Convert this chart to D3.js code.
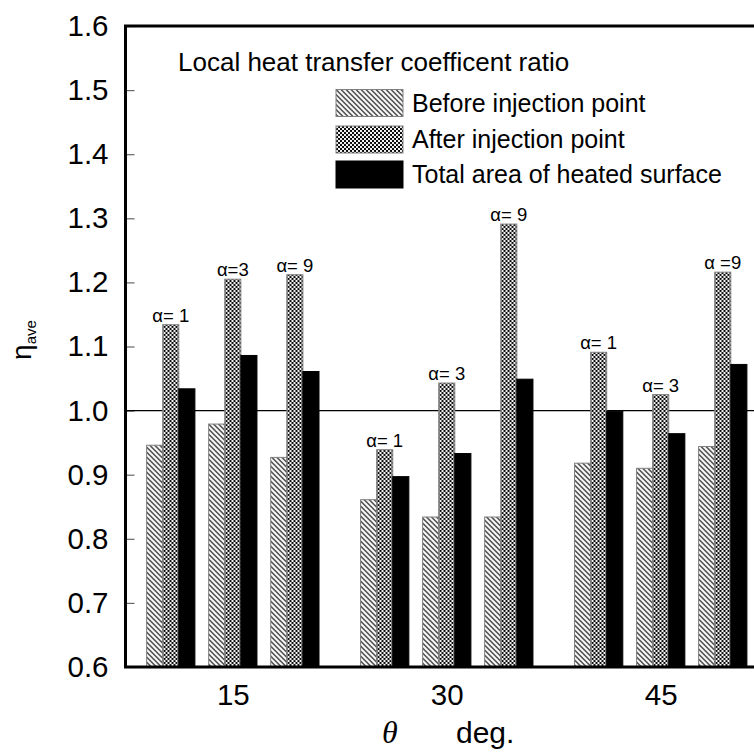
<!DOCTYPE html>
<html>
<head>
<meta charset="utf-8">
<title>Local heat transfer coefficient ratio</title>
<script src="https://cdnjs.cloudflare.com/ajax/libs/d3/7.8.5/d3.min.js"></script>
<style>
  body { margin: 0; background: #fff; }
  svg { display: block; font-family: "Liberation Sans", Arial, sans-serif; }
  .frame { stroke: #000; stroke-width: 3; fill: none; }
  .yaxis .tick line { stroke: #666; stroke-width: 1.2; }
  .yaxis .tick text, .xaxis .tick text { font-size: 29.5px; fill: #000; }
  .yaxis .domain, .xaxis .domain { display: none; }
</style>
</head>
<body>
<div id="chart"></div>
<script>
// data
var thetas = [15, 30, 45];
var alphas = [1, 3, 9];
var seriesNames = ["Before injection point", "After injection point", "Total area of heated surface"];
var beforeValues = [[0.946, 0.979, 0.927], [0.861, 0.834, 0.834], [0.918, 0.910, 0.944]];
var afterValues = [[1.134, 1.205, 1.212], [0.939, 1.043, 1.291], [1.091, 1.025, 1.216]];
var totalValues = [[1.034, 1.086, 1.061], [0.897, 0.933, 1.049], [0.999, 0.964, 1.072]];
var alphaLabels = [["α= 1", "α=3", "α= 9"], ["α= 1", "α= 3", "α= 9"], ["α= 1", "α= 3", "α =9"]];
var yTicks = [0.6, 0.7, 0.8, 0.9, 1.0, 1.1, 1.2, 1.3, 1.4, 1.5, 1.6];
var refValue = 1.0;

var margin = { left: 125.5, top: 26, right: 0, bottom: 87 };
var W = 754, H = 754;
var width = W - margin.left - margin.right;
var height = H - margin.top - margin.bottom;

var svg = d3.select("#chart").append("svg")
  .attr("width", W).attr("height", H);

var defs = svg.append("defs");
var pBefore = defs.append("pattern").attr("id", "pBefore")
  .attr("patternUnits", "userSpaceOnUse").attr("width", 5).attr("height", 5);
pBefore.append("rect").attr("width", 5).attr("height", 5).attr("fill", "#fff");
pBefore.append("path").attr("d", "M-1,-1L6,6M4,-1L6,1M-1,4L1,6")
  .attr("stroke", "#000").attr("stroke-width", 1.1);

// checker of white dots on black
var pAfter = defs.append("pattern").attr("id", "pAfter")
  .attr("patternUnits", "userSpaceOnUse").attr("width", 4).attr("height", 4);
pAfter.append("rect").attr("width", 4).attr("height", 4).attr("fill", "#000");
pAfter.append("circle").attr("cx", 1).attr("cy", 1).attr("r", 1.15).attr("fill", "#fff");
pAfter.append("circle").attr("cx", 3).attr("cy", 3).attr("r", 1.15).attr("fill", "#fff");

var fills = ["url(#pBefore)", "url(#pAfter)", "#000"];
var strokes = ["#808080", "#808080", "#000"];

var g = svg.append("g").attr("transform", "translate(" + margin.left + "," + margin.top + ")");

var y = d3.scaleLinear().domain([0.6, 1.6]).range([height, 0]);
var xGroup = d3.scalePoint().domain(thetas).range([107.3, 535.2]);
var xAlpha = d3.scaleBand().domain(alphas).range([-86.2, 86.2]).paddingInner(0.2216).paddingOuter(0);
var xSeries = d3.scaleBand().domain([0, 1, 2]).range([0, xAlpha.bandwidth()]).padding(0);

// y axis with inner ticks
g.append("g").attr("class", "yaxis")
  .call(d3.axisLeft(y).tickValues(yTicks).tickFormat(d3.format(".1f"))
    .tickSizeInner(-9).tickSizeOuter(0).tickPadding(17));

// x axis labels
g.append("g").attr("class", "xaxis").attr("transform", "translate(0," + height + ")")
  .call(d3.axisBottom(xGroup).tickSize(0).tickPadding(17));

// reference line at 1.0
g.append("line")
  .attr("x1", 0).attr("x2", width)
  .attr("y1", y(refValue)).attr("y2", y(refValue))
  .attr("stroke", "#000").attr("stroke-width", 1.3);

// bars
var rows = [];
thetas.forEach(function (t, i) {
  alphas.forEach(function (a, j) {
    [beforeValues, afterValues, totalValues].forEach(function (vals, k) {
      rows.push({ theta: t, alpha: a, series: k, value: vals[i][j] });
    });
  });
});

g.selectAll("rect.bar").data(rows).enter().append("rect")
  .attr("class", "bar")
  .attr("x", function (d) { return xGroup(d.theta) + xAlpha(d.alpha) + xSeries(d.series); })
  .attr("width", xSeries.bandwidth())
  .attr("y", function (d) { return y(d.value); })
  .attr("height", function (d) { return height - y(d.value); })
  .attr("fill", function (d) { return fills[d.series]; })
  .attr("stroke", function (d) { return strokes[d.series]; })
  .attr("stroke-width", 1);

// alpha labels above the "after" bars
var labelRows = [];
thetas.forEach(function (t, i) {
  alphas.forEach(function (a, j) {
    labelRows.push({ theta: t, alpha: a, text: alphaLabels[i][j], value: afterValues[i][j] });
  });
});
g.selectAll("text.alpha").data(labelRows).enter().append("text")
  .attr("class", "alpha")
  .attr("x", function (d) { return xGroup(d.theta) + xAlpha(d.alpha) + xSeries(1) + xSeries.bandwidth() / 2; })
  .attr("y", function (d) { return y(d.value) - 3; })
  .attr("text-anchor", "middle")
  .attr("font-size", 18.5)
  .text(function (d) { return d.text; });

// frame
g.append("path").attr("class", "frame")
  .attr("d", "M" + width + ",0H0V" + height + "H" + width);

// legend
svg.append("text").attr("x", 178).attr("y", 71).attr("font-size", 26)
  .text("Local heat transfer coefficent ratio");
var legendY = [89.5, 126, 161];
var leg = svg.selectAll("g.leg").data(seriesNames).enter().append("g").attr("class", "leg")
  .attr("transform", function (d, i) { return "translate(336," + legendY[i] + ")"; });
leg.append("rect").attr("width", 67).attr("height", 27)
  .attr("fill", function (d, i) { return fills[i]; })
  .attr("stroke", function (d, i) { return strokes[i]; });
leg.append("text").attr("x", 76).attr("y", 13.5).attr("dy", "0.35em")
  .attr("font-size", 25)
  .text(function (d) { return d; });

// axis titles
svg.append("text").attr("x", 382).attr("y", 743)
  .attr("font-family", "'Liberation Serif', 'Times New Roman', serif")
  .attr("font-style", "italic").attr("font-size", 32).text("θ");
svg.append("text").attr("x", 456).attr("y", 743).attr("font-size", 30).text("deg.");

var yt = svg.append("text").attr("transform", "translate(31,340) rotate(-90)")
  .attr("text-anchor", "middle");
yt.append("tspan").attr("font-size", 28).text("η");
yt.append("tspan").attr("font-size", 15).attr("dy", 5).text("ave");
</script>
</body>
</html>
